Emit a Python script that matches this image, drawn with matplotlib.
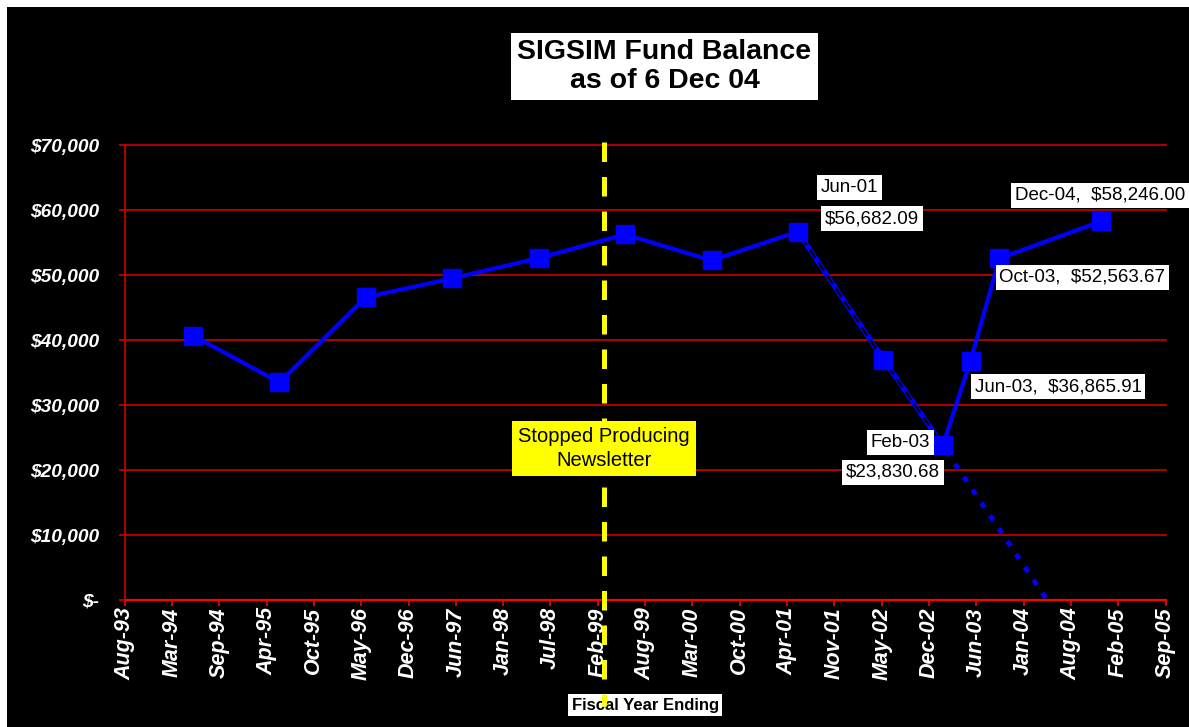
import matplotlib
matplotlib.use("Agg")
import matplotlib.pyplot as plt
import matplotlib.dates as mdates
import matplotlib.transforms as mtransforms
from matplotlib.patches import Rectangle
from matplotlib.ticker import FuncFormatter
import numpy as np

plt.rcParams['font.family'] = ['Liberation Sans', 'DejaVu Sans']

"""
DATA
"""
dates = ['1994-06-05', '1995-06-05', '1996-06-05', '1997-06-05', '1998-06-05',
         '1999-06-05', '2000-06-05', '2001-06-05', '2002-06-01', '2003-02-08',
         '2003-06-05', '2003-10-05', '2004-12-06']
balances = [40700, 33500, 46600, 49500, 52600,
            56250, 52250, 56682.09, 37000, 23830.68,
            36865.91, 52563.67, 58246.00]

# points used for the decline (thin segment + trend line)
decline_idx = [7, 8, 9]

axis_start = '1993-08-20'
tick_step_days = 200
n_ticks = 23
newsletter_stop = '1999-03-08'

y_ticks = [0, 10000, 20000, 30000, 40000, 50000, 60000, 70000]

# (text, point index, dx px, dy px, ha)
labels = [
    ('Jun-01', 7, 23, 44, 'left'),
    ('$56,682.09', 7, 27, 13, 'left'),
    ('Feb-03', 9, -13, 3, 'right'),
    ('$23,830.68', 9, -50, -27, 'center'),
    ('Jun-03,  $36,865.91', 10, 4, -26, 'left'),
    ('Oct-03,  $52,563.67', 11, 0, -19, 'left'),
    ('Dec-04,  $58,246.00', 12, -86, 26, 'left'),
]

"""
PLOT
"""
x = mdates.datestr2num(dates)
y = np.array(balances)
x0 = mdates.datestr2num(axis_start)

fig = plt.figure(figsize=(11.89, 7.27), dpi=100)
fig.patch.set_facecolor('white')
fig.patches.append(Rectangle((7 / 1189, 0), 1, 720 / 727, transform=fig.transFigure,
                             facecolor='black', edgecolor='none', zorder=-10))

ax = fig.add_axes([0.10488, 0.17428, 0.87536, 0.62627])
ax.set_facecolor('black')

ax.set_xlim(x0, x0 + tick_step_days * (n_ticks - 1))
ax.set_ylim(0, 70000)

# grid
for v in y_ticks[1:]:
    ax.axhline(v, color='#CC0000', lw=1.2, zorder=1, clip_on=False)

# main line pieces
a, b = decline_idx[0], decline_idx[-1]
ax.plot(x[:a + 1], y[:a + 1], color='#0000FF', lw=3, zorder=3, solid_capstyle='butt')
ax.plot(x[b:], y[b:], color='#0000FF', lw=3, zorder=3, solid_capstyle='butt')
ax.plot(x[a:b + 1], y[a:b + 1], color='#0000FF', lw=3.4, zorder=3)
ax.plot(x[a:b + 1], y[a:b + 1], color='black', lw=1.6, zorder=3.1)

# linear trend through the decline, run down to zero
k, c = np.polyfit(x[decline_idx], y[decline_idx], 1)
x_zero = -c / k
ax.plot([x[a], x_zero], [k * x[a] + c, 0], color='#0000FF', lw=3.5,
        dashes=(1.2, 2.0), zorder=3.2, dash_capstyle='butt')

ax.plot(x, y, linestyle='none', marker='s', markersize=13.5,
        color='#0000FF', zorder=4)

# newsletter line
blend = mtransforms.blended_transform_factory(ax.transData, ax.transAxes)
xs = mdates.datestr2num(newsletter_stop)
ax.plot([xs, xs], [1.0066, -0.232], transform=blend, color='#FFFF00', lw=3.6,
        dashes=(3.9, 3.0), clip_on=False, zorder=5, dash_capstyle='butt')
ax.text(xs, 23300, 'Stopped Producing\nNewsletter', ha='center', va='center',
        fontsize=14.5, color='black', linespacing=1.3, zorder=6,
        bbox=dict(boxstyle='square,pad=0.3', facecolor='#FFFF00', edgecolor='none'))

# data labels
for text, i, dx, dy, ha in labels:
    ax.annotate(text, xy=(x[i], y[i]), xytext=(dx, dy), textcoords='offset pixels',
                ha=ha, va='center', fontsize=13.5, color='black', zorder=7,
                annotation_clip=False,
                bbox=dict(boxstyle='square,pad=0.2', facecolor='white', edgecolor='none'))

# axes styling
ax.spines['top'].set_visible(False)
ax.spines['right'].set_visible(False)
ax.spines['left'].set_color('#CC0000')
ax.spines['left'].set_linewidth(1.2)
ax.spines['bottom'].set_color('#FF0000')
ax.spines['bottom'].set_linewidth(1.6)
ax.spines['bottom'].set_zorder(2)

ax.set_xticks([x0 + tick_step_days * i for i in range(n_ticks)])
ax.xaxis.set_major_formatter(mdates.DateFormatter('%b-%y'))
ax.set_yticks(y_ticks)
ax.yaxis.set_major_formatter(FuncFormatter(lambda v, p: '$-' if v == 0 else '${:,.0f}'.format(v)))

ax.tick_params(axis='both', direction='out', length=4.5, width=1.2, colors='#FF0000')
ax.tick_params(axis='y', colors='#CC0000', pad=14)
ax.tick_params(axis='x', pad=0.5)
for t in ax.get_xticklabels():
    t.set_rotation(90)
    t.set_fontsize(15.5)
    t.set_fontweight('bold')
    t.set_fontstyle('italic')
    t.set_color('white')
for t in ax.get_yticklabels():
    t.set_fontsize(13.8)
    t.set_fontweight('bold')
    t.set_fontstyle('italic')
    t.set_color('white')

ax.text(0.5, -0.2305, 'Fiscal Year Ending', transform=ax.transAxes, ha='center', va='center',
        fontsize=12, fontweight='bold', color='black', zorder=1,
        bbox=dict(boxstyle='square,pad=0.2', facecolor='white', edgecolor='none'))

fig.text(0.5589, 0.9085, 'SIGSIM Fund Balance\nas of 6 Dec 04', ha='center', va='center',
         fontsize=20.5, fontweight='bold', color='black', linespacing=1.15,
         bbox=dict(boxstyle='square,pad=0.22', facecolor='white', edgecolor='none'))

plt.savefig('out.png', dpi=100, facecolor=fig.get_facecolor())
